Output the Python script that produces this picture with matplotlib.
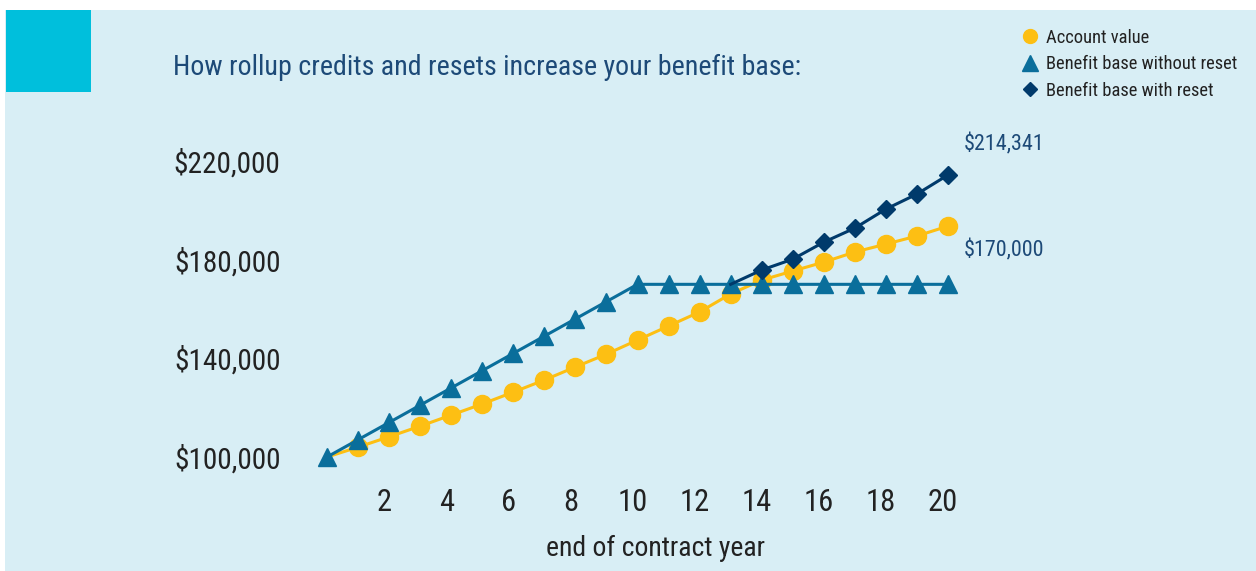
import matplotlib
matplotlib.use("Agg")
import matplotlib.pyplot as plt
from matplotlib import font_manager
from matplotlib.patches import Rectangle
from matplotlib.lines import Line2D
from matplotlib.transforms import ScaledTranslation

# data
years = list(range(0, 21))
account_value = [100000, 104000, 108200, 112500, 117000, 121500, 126300, 131200,
                 136500, 141700, 147400, 153100, 158800, 166100, 171700, 175400,
                 179000, 183100, 186300, 189600, 193600]
base_no_reset = [100000, 107000, 114000, 121000, 128000, 135000, 142000, 149000,
                 156000, 163000, 170000, 170000, 170000, 170000, 170000, 170000,
                 170000, 170000, 170000, 170000, 170000]
reset_years = [13, 14, 15, 16, 17, 18, 19, 20]
base_with_reset = [170000, 175800, 180200, 187100, 192800, 200500, 206600, 214341]

xticks = [2, 4, 6, 8, 10, 12, 14, 16, 18, 20]
yticks = [100000, 140000, 180000, 220000]
ytick_labels = ["$100,000", "$140,000", "$180,000", "$220,000"]

ORANGE = "#fdbf13"
BLUE = "#0a6e9b"
NAVY = "#003a6b"
BG = "#d8eef5"
TEAL = "#00bfdc"
TITLE = "#1d4a78"
INK = "#222222"

# pick a narrow face if one is around
fonts = font_manager.fontManager.ttflist
names = {f.name for f in fonts}
family, stretch = "DejaVu Sans", "normal"
for cand in ["Liberation Sans Narrow", "Roboto Condensed", "Open Sans Condensed",
             "DejaVu Sans Condensed"]:
    if cand in names:
        family = cand
        break
else:
    if any(f.name == "DejaVu Sans" and f.stretch in ("condensed", "semi-condensed") for f in fonts):
        stretch = "condensed"
    elif "Roboto" in names:
        family = "Roboto"
plt.rcParams['font.family'] = [family, 'DejaVu Sans']
plt.rcParams['font.stretch'] = stretch

W, H = 1256, 571
fig = plt.figure(figsize=(W / 100, H / 100), dpi=100)
fig.patch.set_facecolor("white")

# light blue panel and teal square
fig.patches.append(Rectangle((5 / W, 0), 1 - 5 / W, (H - 10) / H,
                             transform=fig.transFigure, facecolor=BG, edgecolor="none", zorder=-5))
fig.patches.append(Rectangle((6 / W, 1 - 92 / H), 85 / W, 82 / H,
                             transform=fig.transFigure, facecolor=TEAL, edgecolor="none", zorder=-4))

# axes placed in pixel space: 300..1000 x, 130..470 y
ax_l, ax_r, ax_t, ax_b = 300, 1000, 130, 470
ax = fig.add_axes([ax_l / W, 1 - ax_b / H, (ax_r - ax_l) / W, (ax_b - ax_t) / H])
ax.set_zorder(2)
ax.patch.set_alpha(0)
px_year = (948 - 327) / 20
px_val = 120000 / (457 - 161)
ax.set_xlim((ax_l - 327) / px_year, (ax_r - 327) / px_year)
ax.set_ylim(100000 - (ax_b - 457) * px_val, 100000 + (457 - ax_t) * px_val)
for s in ax.spines.values():
    s.set_visible(False)

ax.plot(years, account_value, color=ORANGE, lw=2.2, marker="o", ms=13,
        mec=ORANGE, markevery=list(range(1, len(years))), zorder=3, clip_on=False)
ax.plot(years, base_no_reset, color=BLUE, lw=2.2, marker="^", ms=13,
        mec=BLUE, zorder=4, clip_on=False)
ax.plot(reset_years, base_with_reset, color=NAVY, lw=2.2, marker="D", ms=9.5,
        mec=NAVY, markevery=list(range(1, len(reset_years))), zorder=5, clip_on=False)

ax.set_xticks(xticks)
ax.set_xticklabels([str(t) for t in xticks], fontsize=22, color=INK)
ax.set_yticks(yticks)
ax.set_yticklabels(ytick_labels, fontsize=20, color=INK)
ax.tick_params(axis="both", length=0)
ax.tick_params(axis="x", pad=13)
ax.tick_params(axis="y", pad=14)
shift = ScaledTranslation(-5 / 100, 0, fig.dpi_scale_trans)
for lab in ax.get_xticklabels():
    lab.set_transform(lab.get_transform() + shift)

xlab = fig.text(656 / W, 1 - 548 / H, "end of contract year", ha="center", va="center",
                fontsize=19, color=INK)
title = fig.text(173 / W, 1 - 67 / H, "How rollup credits and resets increase your benefit base:",
                 ha="left", va="center", fontsize=19, color=TITLE)

# end labels
lab_hi = ax.annotate("$214,341", xy=(reset_years[-1], base_with_reset[-1]), xytext=(16, 31),
                     textcoords="offset pixels", ha="left", va="center", fontsize=16, color=TITLE)
lab_lo = ax.annotate("$170,000", xy=(years[-1], base_no_reset[-1]), xytext=(16, 34),
                     textcoords="offset pixels", ha="left", va="center", fontsize=16, color=TITLE)

handles = [
    Line2D([], [], color=ORANGE, marker="o", ls="none", ms=10),
    Line2D([], [], color=BLUE, marker="^", ls="none", ms=11),
    Line2D([], [], color=NAVY, marker="D", ls="none", ms=7.5),
]
labels = ["Account value", "Benefit base without reset", "Benefit base with reset"]


def fit(texts, width_px):
    # shrink/grow a set of texts so the widest matches the width seen in the reference
    r = fig.canvas.get_renderer()
    widest = max(t.get_window_extent(r).width for t in texts)
    for t in texts:
        t.set_fontsize(t.get_fontsize() * width_px / widest)


fit([title], 627)
fit([xlab], 220)
fit([lab_hi, lab_lo], 81)
fit(ax.get_yticklabels(), 107)

leg = fig.legend(handles, labels, loc="upper left", bbox_to_anchor=(1021 / W, 1 - 29 / H),
                 frameon=False, fontsize=13.5, handlelength=1.0, handletextpad=0.35,
                 labelspacing=0.45, borderpad=0, borderaxespad=0, labelcolor=INK)
fit(leg.get_texts(), 191)

fig.savefig("out.png", dpi=100)
